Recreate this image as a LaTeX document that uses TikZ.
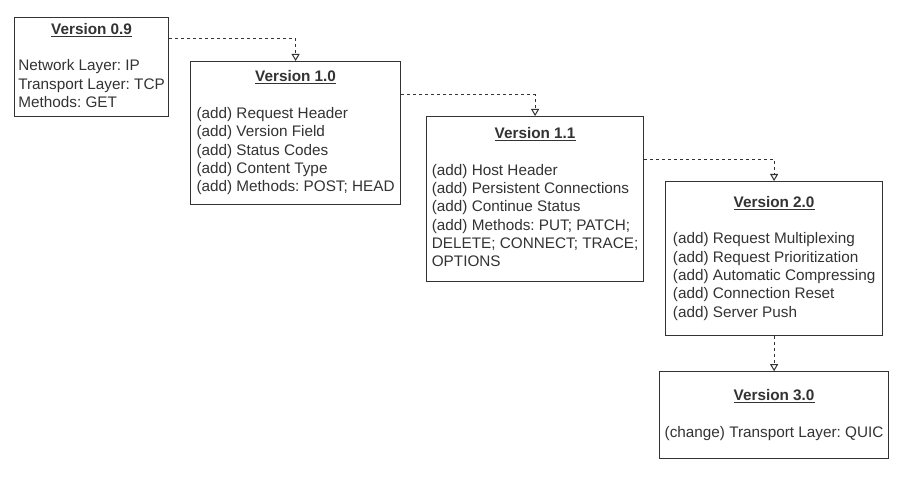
\documentclass[tikz,border=0pt]{standalone}
\usepackage{fontspec}
\setmainfont{Liberation Sans}
\frenchspacing
\usetikzlibrary{arrows.meta,positioning}
\definecolor{inkgrey}{HTML}{333333}
\tikzset{
  version/.style = {draw=inkgrey, line width=1.2pt, rectangle, anchor=north west,
                    inner sep=2pt, text=inkgrey,
                    font=\fontsize{15.3}{18.3}\selectfont},
  link/.style    = {draw=inkgrey, line width=1pt, dash pattern=on 3pt off 3pt,
                    -{Triangle[open,length=7pt,width=8pt]}}
}
% title on top, one empty row, then the list
\newcommand{\release}[2]{\begin{tabular}{@{}l@{}}\multicolumn{1}{@{}c@{}}{\textbf{\underline{#1}}}\\ \\ #2\end{tabular}}

\begin{document}
\begin{tikzpicture}[x=1pt, y=-1pt]
  \fill[white] (0,0) rectangle (909,481);
  \useasboundingbox (0,0) rectangle (909,481);

  % the versions, left to right
  \node[version, minimum width=154pt, minimum height=99pt] (v09) at (14,17)
    {\release{Version 0.9}{Network Layer: IP\\ Transport Layer: TCP\\ Methods: GET}};
  \node[version, minimum width=210pt, minimum height=143pt] (v10) at (190,61)
    {\release{Version 1.0}{(add) Request Header\\ (add) Version Field\\ (add) Status Codes\\
     (add) Content Type\\ (add) Methods: POST; HEAD}};
  \node[version, minimum width=217pt, minimum height=165pt] (v11) at (426,116)
    {\release{Version 1.1}{(add) Host Header\\ (add) Persistent Connections\\ (add) Continue Status\\
     (add) Methods: PUT; PATCH;\\ DELETE; CONNECT; TRACE;\\ OPTIONS}};
  \node[version, minimum width=217pt, minimum height=154pt] (v20) at (665,181)
    {\release{Version 2.0}{(add) Request Multiplexing\\ (add) Request Prioritization\\
     (add) Automatic Compressing\\ (add) Connection Reset\\ (add) Server Push}};
% last one sits right under 2.0
  \node[version, below=35pt of v20, minimum width=229pt, minimum height=87pt] (v30)
    {\release{Version 3.0}{(change) Transport Layer: QUIC}};

  % dashed links from each version to the next
  \foreach \from/\to in {v09/v10, v10/v11, v11/v20}
    \draw[link] (\from.20) -| (\to.north);
  \draw[link] (v20) -- (v30);
\end{tikzpicture}
\end{document}
